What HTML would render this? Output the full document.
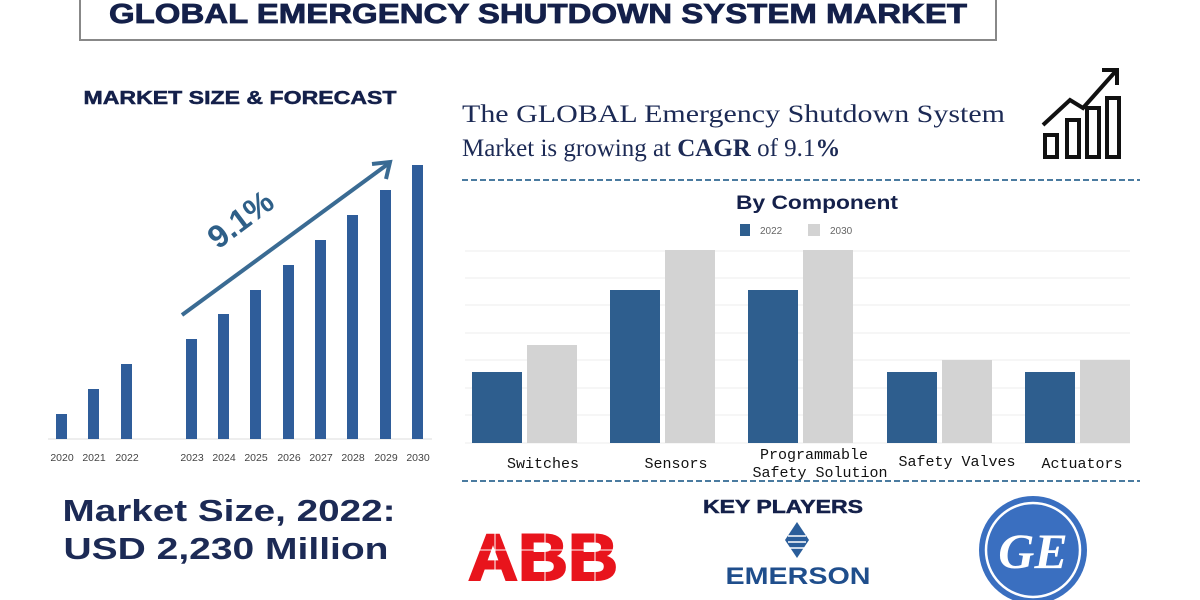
<!DOCTYPE html>
<html><head><meta charset="utf-8"><style>
body{margin:0;width:1200px;height:600px;background:#fff;overflow:hidden;position:relative;font-family:"Liberation Sans",sans-serif}
</style></head><body>
<svg width="1200" height="600" style="position:absolute;left:0;top:0">
<rect x="80" y="-5" width="916" height="45" fill="#fff" stroke="#888" stroke-width="2"/>
<text x="538" y="23" text-anchor="middle" font-family="Liberation Sans" font-weight="900" font-size="28" fill="#14204a" stroke="#14204a" stroke-width="0.8" textLength="858" lengthAdjust="spacingAndGlyphs">GLOBAL EMERGENCY SHUTDOWN SYSTEM MARKET</text>
<text x="240" y="104" text-anchor="middle" font-family="Liberation Sans" font-weight="900" font-size="18.5" fill="#14204a" stroke="#14204a" stroke-width="0.5" textLength="313" lengthAdjust="spacingAndGlyphs">MARKET SIZE &amp; FORECAST</text>
<line x1="48" y1="439" x2="432" y2="439" stroke="#ddd"/>
<g fill="#2f5d9a">
<rect x="56" y="414" width="11" height="25"/><rect x="88" y="389" width="11" height="50"/><rect x="121" y="364" width="11" height="75"/>
<rect x="186" y="339" width="11" height="100"/><rect x="218" y="314" width="11" height="125"/><rect x="250" y="290" width="11" height="149"/>
<rect x="283" y="265" width="11" height="174"/><rect x="315" y="240" width="11" height="199"/><rect x="347" y="215" width="11" height="224"/>
<rect x="380" y="190" width="11" height="249"/><rect x="412" y="165" width="11" height="274"/>
</g>
<g font-family="Liberation Sans" font-size="10.5" fill="#444" text-anchor="middle">
<text x="62" y="461">2020</text><text x="94" y="461">2021</text><text x="127" y="461">2022</text>
<text x="192" y="461">2023</text><text x="224" y="461">2024</text><text x="256" y="461">2025</text><text x="289" y="461">2026</text>
<text x="321" y="461">2027</text><text x="353" y="461">2028</text><text x="386" y="461">2029</text><text x="418" y="461">2030</text>
</g>
<line x1="182" y1="315" x2="388" y2="164" stroke="#3a6b93" stroke-width="4"/>
<polyline points="372,164 390,162 386,179" fill="none" stroke="#3a6b93" stroke-width="4"/>
<text x="0" y="0" transform="translate(218,250) rotate(-37)" font-family="Liberation Sans" font-weight="bold" font-size="32" fill="#2e5f88">9.1%</text>
<text x="229" y="521" text-anchor="middle" font-family="Liberation Sans" font-weight="bold" font-size="31" fill="#1c2a55" textLength="333" lengthAdjust="spacingAndGlyphs">Market Size, 2022:</text>
<text x="226" y="559" text-anchor="middle" font-family="Liberation Sans" font-weight="bold" font-size="31" fill="#1c2a55" textLength="325" lengthAdjust="spacingAndGlyphs">USD 2,230 Million</text>
<text x="462" y="122" font-family="Liberation Serif" font-size="25" fill="#1c2a55" textLength="543" lengthAdjust="spacingAndGlyphs">The GLOBAL Emergency Shutdown System</text>
<text x="462" y="156" font-family="Liberation Serif" font-size="25" fill="#1c2a55">Market is growing at <tspan font-weight="bold">CAGR</tspan> of 9.1<tspan font-weight="bold">%</tspan></text>
<g stroke="#111" stroke-width="4" fill="none">
<rect x="1045" y="135" width="12" height="22"/><rect x="1067" y="120" width="12" height="37"/><rect x="1087" y="108" width="12" height="49"/><rect x="1107" y="98" width="12" height="59"/>
<polyline points="1043,125 1070,100 1083,108 1115,72"/><polyline points="1102,70 1117,70 1117,85"/>
</g>
<line x1="462" y1="180" x2="1140" y2="180" stroke="#4a7ba0" stroke-width="2" stroke-dasharray="6,3"/>
<line x1="462" y1="481" x2="1140" y2="481" stroke="#4a7ba0" stroke-width="2" stroke-dasharray="6,3"/>
<text x="817" y="209" text-anchor="middle" font-family="Liberation Sans" font-weight="bold" font-size="19" fill="#14204a" textLength="162" lengthAdjust="spacingAndGlyphs">By Component</text>
<rect x="740" y="224" width="10" height="12" fill="#2e5e8e"/><text x="760" y="234" font-family="Liberation Sans" font-size="10" fill="#666">2022</text>
<rect x="808" y="224" width="12" height="12" fill="#d3d3d3"/><text x="830" y="234" font-family="Liberation Sans" font-size="10" fill="#666">2030</text>
<g stroke="#eee"><line x1="465" y1="251" x2="1130" y2="251"/><line x1="465" y1="278" x2="1130" y2="278"/><line x1="465" y1="305" x2="1130" y2="305"/><line x1="465" y1="333" x2="1130" y2="333"/><line x1="465" y1="360" x2="1130" y2="360"/><line x1="465" y1="388" x2="1130" y2="388"/><line x1="465" y1="415" x2="1130" y2="415"/><line x1="465" y1="443" x2="1130" y2="443"/></g>
<g fill="#2e5e8e"><rect x="472" y="372" width="50" height="71"/><rect x="610" y="290" width="50" height="153"/><rect x="748" y="290" width="50" height="153"/><rect x="887" y="372" width="50" height="71"/><rect x="1025" y="372" width="50" height="71"/></g>
<g fill="#d3d3d3"><rect x="527" y="345" width="50" height="98"/><rect x="665" y="250" width="50" height="193"/><rect x="803" y="250" width="50" height="193"/><rect x="942" y="360" width="50" height="83"/><rect x="1080" y="360" width="50" height="83"/></g>
<g font-family="Liberation Mono" font-size="15" fill="#111" text-anchor="middle">
<text x="543" y="468">Switches</text><text x="676" y="468">Sensors</text>
<text x="814" y="459">Programmable</text><text x="820" y="477">Safety Solution</text>
<text x="957" y="466">Safety Valves</text><text x="1082" y="468">Actuators</text>
</g>
<text x="783" y="513" text-anchor="middle" font-family="Liberation Sans" font-weight="900" font-size="18" fill="#14204a" stroke="#14204a" stroke-width="0.5" textLength="160" lengthAdjust="spacingAndGlyphs">KEY PLAYERS</text>
<text x="543" y="580" text-anchor="middle" font-family="Liberation Sans" font-weight="900" font-size="66" fill="#e8141c" stroke="#e8141c" stroke-width="2" textLength="150" lengthAdjust="spacingAndGlyphs">ABB</text>
<g stroke="#fff" stroke-width="1"><line x1="495" y1="518" x2="495" y2="582"/><line x1="545" y1="518" x2="545" y2="582"/><line x1="595" y1="518" x2="595" y2="582"/><line x1="467" y1="550" x2="620" y2="550"/></g>
<polygon points="797,522 809,540 797,558 785,540" fill="#2a5d9a"/>
<g stroke="#fff" stroke-width="1.5"><line x1="788" y1="536" x2="806" y2="536"/><line x1="788" y1="542" x2="806" y2="542"/><line x1="789" y1="548" x2="805" y2="548"/></g>
<text x="798" y="584" text-anchor="middle" font-family="Liberation Sans" font-weight="bold" font-size="24" fill="#1f4e8c" textLength="145" lengthAdjust="spacingAndGlyphs">EMERSON</text>
<circle cx="1033" cy="550" r="54" fill="#3a6fc0"/>
<circle cx="1033" cy="550" r="47" fill="none" stroke="#fff" stroke-width="2.5"/>
<text x="1033" y="568" text-anchor="middle" font-family="Liberation Serif" font-style="italic" font-weight="bold" font-size="50" fill="#fff">GE</text>
</svg>
</body></html>
